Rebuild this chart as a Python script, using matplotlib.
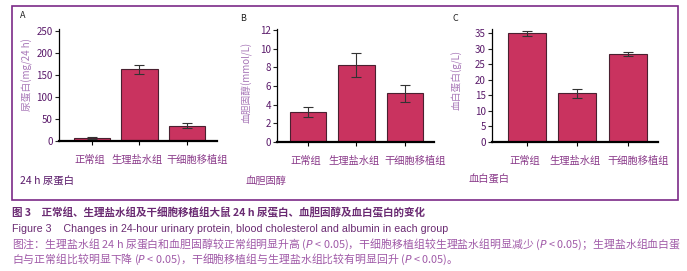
import matplotlib
matplotlib.use('Agg')
import matplotlib.pyplot as plt
from matplotlib.patches import Rectangle

plt.rcParams['font.family'] = ['Noto Sans CJK SC', 'DejaVu Sans']

# Data
groups = ['正常组', '生理盐水组', '干细胞移植组']
urine_protein = [7, 163, 35]
urine_protein_err = [1.5, 11, 5]
cholesterol = [3.2, 8.25, 5.2]
cholesterol_err = [0.5, 1.3, 0.9]
albumin = [35.0, 15.6, 28.2]
albumin_err = [0.8, 1.4, 0.7]

W, H = 687, 271
fig = plt.figure(figsize=(W / 100, H / 100), dpi=100)

bar_color = '#c9335f'
edge_color = '#4a2030'
tick_color = '#5a1a6a'
ylab_color = '#a878b8'
xlab_color = '#8a3a8a'
box_color = '#7b2a88'

# the group names sit in a row, last one pushed right (offsets in px)
label_shift = [-2, -2, 10]


def px_axes(x0, x1, y0, y1):
    # pixel box -> figure fraction
    return fig.add_axes([x0 / W, 1 - y1 / H, (x1 - x0) / W, (y1 - y0) / H])


def panel(ax, vals, errs, ylim, yticks, ylabel, xlim, ylab_y, ylab_pad):
    x = list(range(len(vals)))
    ax.bar(x, vals, width=0.76, color=bar_color, edgecolor=edge_color, linewidth=0.8, zorder=2)
    ax.errorbar(x, vals, yerr=errs, fmt='none', ecolor='#333333', elinewidth=0.8,
                capsize=3.5, capthick=0.8, zorder=3)
    ax.set_xlim(*xlim)
    ax.set_ylim(*ylim)
    ax.set_yticks(yticks)
    ax.set_xticks(x)
    ax.set_xticklabels([])
    for i, g in enumerate(groups):
        ax.annotate(g, xy=(i, 0), xycoords=('data', 'axes fraction'),
                    xytext=(label_shift[i] * 0.72, -10), textcoords='offset points',
                    ha='center', va='top', fontsize=7.4, color=xlab_color)
    ax.set_ylabel(ylabel, fontsize=7, color=ylab_color, labelpad=ylab_pad, y=ylab_y)
    for s in ['top', 'right']:
        ax.spines[s].set_visible(False)
    ax.spines['left'].set_linewidth(0.9)
    ax.spines['bottom'].set_linewidth(1.6)
    ax.tick_params(axis='y', labelsize=7, colors='#222222', labelcolor=tick_color,
                   length=3, width=0.8, pad=1.5)
    ax.tick_params(axis='x', length=3, width=0.8)
    ax.set_facecolor('none')


axA = px_axes(59, 217, 29, 141)
panel(axA, urine_protein, urine_protein_err, (0, 255), range(0, 251, 50),
      '尿蛋白(mg/24 h)', (-0.69, 2.63), 0.59, 2)
axB = px_axes(277, 434, 29, 142)
panel(axB, cholesterol, cholesterol_err, (0, 12.1), range(0, 13, 2),
      '血胆固醇(mmol/L)', (-0.64, 2.6), 0.53, 5)
axC = px_axes(492, 658, 29, 142)
panel(axC, albumin, albumin_err, (0, 36.3), range(0, 36, 5),
      '血白蛋白(g/L)', (-0.69, 2.6), 0.55, 9)

# panel letters and bottom titles
fig.text(20 / W, 1 - 16 / H, 'A', fontsize=6.5, color='#222222', va='center')
fig.text(240 / W, 1 - 19 / H, 'B', fontsize=6.5, color='#222222', va='center')
fig.text(452 / W, 1 - 19 / H, 'C', fontsize=6.5, color='#222222', va='center')
fig.text(20 / W, 1 - 182 / H, '24 h 尿蛋白', fontsize=7.5, color='#5a1a6a', va='center')
fig.text(246 / W, 1 - 181 / H, '血胆固醇', fontsize=7.4, color=xlab_color, va='center')
fig.text(469 / W, 1 - 180 / H, '血白蛋白', fontsize=7.4, color=xlab_color, va='center')

# border box
fig.patches.append(Rectangle((12 / W, 1 - 200 / H), (678 - 12) / W, (200 - 6) / H,
                             transform=fig.transFigure, fill=False,
                             edgecolor=box_color, linewidth=1.2))

# caption
fig.text(12 / W, 1 - 213 / H,
         '图 3　正常组、生理盐水组及干细胞移植组大鼠 24 h 尿蛋白、血胆固醇及血白蛋白的变化',
         fontsize=7.6, color='#6a2a72', va='center', fontweight='bold')
fig.text(12 / W, 1 - 229 / H,
         'Figure 3    Changes in 24-hour urinary protein, blood cholesterol and albumin in each group',
         fontsize=7.7, color='#6a2a72', va='center', family='Liberation Sans')
fig.text(12 / W, 1 - 244 / H,
         '图注：生理盐水组 24 h 尿蛋白和血胆固醇较正常组明显升高 ($P$ < 0.05)，干细胞移植组较生理盐水组明显减少 ($P$ < 0.05)；生理盐水组血白蛋',
         fontsize=7.85, color='#a05aa8', va='center')
fig.text(12 / W, 1 - 259 / H,
         '白与正常组比较明显下降 ($P$ < 0.05)，干细胞移植组与生理盐水组比较有明显回升 ($P$ < 0.05)。',
         fontsize=7.85, color='#a05aa8', va='center')

fig.savefig('out.png', dpi=100)
